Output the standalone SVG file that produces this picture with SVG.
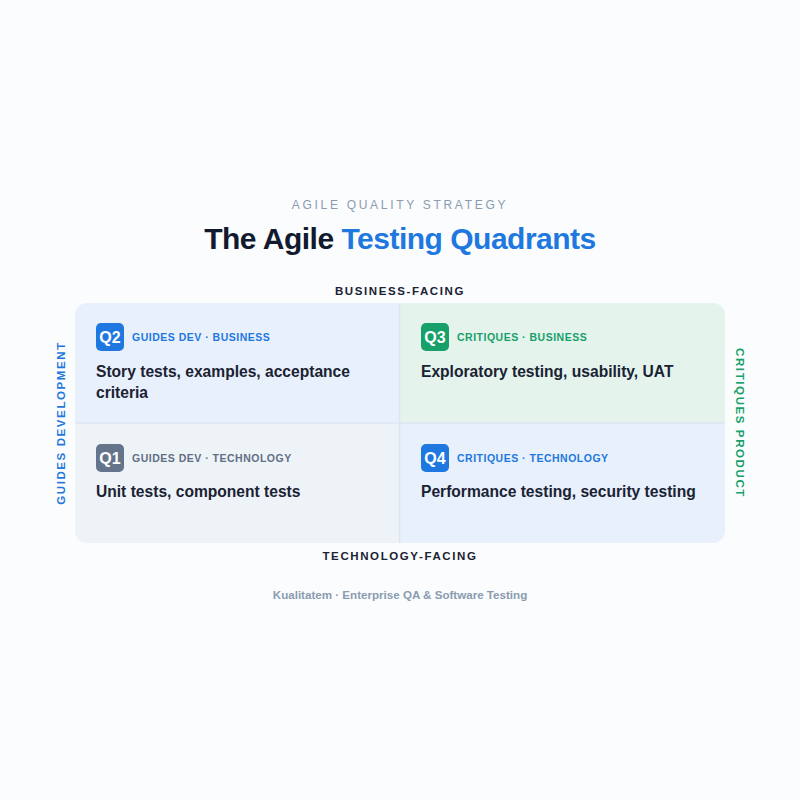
<svg xmlns="http://www.w3.org/2000/svg" width="800" height="800" viewBox="0 0 800 800">
<defs>
<style>
text{font-family:"Liberation Sans",Arial,sans-serif}
.lbl{font-size:10.5px;font-weight:bold;letter-spacing:0.5px}
.body{font-size:15.6px;font-weight:bold;fill:#1a2233}
.badge{font-size:16px;font-weight:bold;fill:#ffffff;text-anchor:middle}
.axis{font-size:11.5px;font-weight:bold;letter-spacing:1.6px;text-anchor:middle}
</style>
<clipPath id="grid"><rect x="75" y="303" width="650" height="240" rx="12"/></clipPath>
</defs>
<rect width="800" height="800" fill="#fbfcfd"/>
<text x="400" y="209" text-anchor="middle" font-size="12" letter-spacing="2.7" fill="#8a9bb0">AGILE QUALITY STRATEGY</text>
<text x="400" y="249" text-anchor="middle" font-size="30" font-weight="bold" letter-spacing="-0.5" fill="#111a2e">The Agile <tspan fill="#1e78e0">Testing Quadrants</tspan></text>
<text class="axis" x="400" y="295" fill="#1a2233">BUSINESS-FACING</text>
<text class="axis" x="400" y="560" fill="#1a2233">TECHNOLOGY-FACING</text>
<text class="axis" transform="translate(65 423) rotate(-90)" fill="#1e78e0">GUIDES DEVELOPMENT</text>
<text class="axis" transform="translate(736 423) rotate(90)" fill="#17a06a">CRITIQUES PRODUCT</text>
<g clip-path="url(#grid)">
<g id="q2"><rect x="75" y="303" width="325" height="120" fill="#e8f0fb"/></g>
<g id="q3"><rect x="400" y="303" width="325" height="120" fill="#e4f4ec"/></g>
<g id="q1"><rect x="75" y="423" width="325" height="120" fill="#eef3f8"/></g>
<g id="q4"><rect x="400" y="423" width="325" height="120" fill="#e8f0fb"/></g>
</g>
<g id="dividers" stroke="#dce6f1" stroke-width="1.5">
<line x1="399.5" y1="303" x2="399.5" y2="543"/>
<line x1="75" y1="423" x2="725" y2="423"/>
</g>
<g id="q2-content">
<rect x="96" y="323" width="28" height="28" rx="5" fill="#1e78e0"/>
<text class="badge" x="110" y="343">Q2</text>
<text class="lbl" x="132" y="341" fill="#1e78e0">GUIDES DEV · BUSINESS</text>
<text class="body" x="96" y="377">Story tests, examples, acceptance</text>
<text class="body" x="96" y="398">criteria</text>
</g>
<g id="q3-content">
<rect x="421" y="323" width="28" height="28" rx="5" fill="#17a06a"/>
<text class="badge" x="435" y="343">Q3</text>
<text class="lbl" x="457" y="341" fill="#17a06a">CRITIQUES · BUSINESS</text>
<text class="body" x="421" y="377">Exploratory testing, usability, UAT</text>
</g>
<g id="q1-content">
<rect x="96" y="444" width="28" height="28" rx="5" fill="#64748b"/>
<text class="badge" x="110" y="464">Q1</text>
<text class="lbl" x="132" y="462" fill="#5f6f84">GUIDES DEV · TECHNOLOGY</text>
<text class="body" x="96" y="497">Unit tests, component tests</text>
</g>
<g id="q4-content">
<rect x="421" y="444" width="28" height="28" rx="5" fill="#1e78e0"/>
<text class="badge" x="435" y="464">Q4</text>
<text class="lbl" x="457" y="462" fill="#1e78e0">CRITIQUES · TECHNOLOGY</text>
<text class="body" x="421" y="497">Performance testing, security testing</text>
</g>
<text x="400" y="599" text-anchor="middle" font-size="11.6" font-weight="bold" fill="#8a9bb0">Kualitatem · Enterprise QA &amp; Software Testing</text>
</svg>
